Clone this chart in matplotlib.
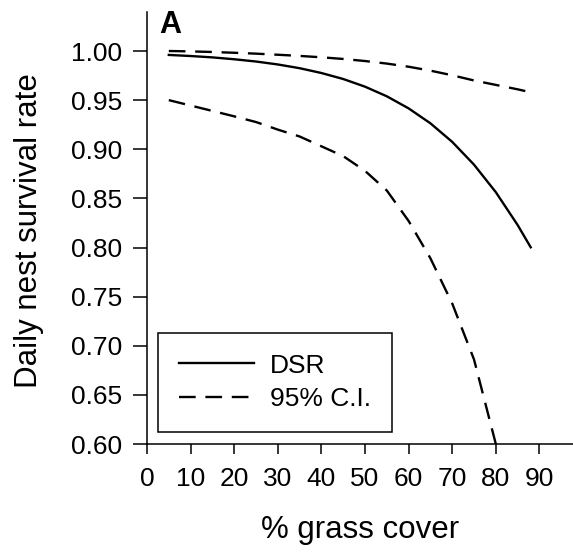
import matplotlib
matplotlib.use("Agg")
import matplotlib.pyplot as plt
import numpy as np

plt.rcParams.update(
    {
        "font.family": ["Liberation Sans", "DejaVu Sans"],
        "lines.scale_dashes": False,
    }
)

# values
grass = [5, 10, 15, 20, 25, 30, 35, 40, 45, 50, 55, 60, 65, 70, 75, 80, 85, 88]
dsr = [0.9960, 0.9949, 0.9935, 0.9916, 0.9893, 0.9863, 0.9825, 0.9776, 0.9715,
       0.9637, 0.9539, 0.9416, 0.9264, 0.9075, 0.8843, 0.8563, 0.8229, 0.8002]
ci_upper = [1.0000, 0.9996, 0.9990, 0.9982, 0.9973, 0.9962, 0.9950, 0.9936, 0.9919,
            0.9898, 0.9872, 0.9840, 0.9800, 0.9753, 0.9700, 0.9655, 0.9610, 0.9580]
grass_low = [5, 10, 15, 20, 25, 30, 35, 40, 45, 50, 55, 60, 65, 70, 75, 80]
ci_lower = [0.950, 0.9445, 0.939, 0.9335, 0.9277, 0.920, 0.913, 0.903, 0.893,
            0.878, 0.858, 0.827, 0.789, 0.743, 0.686, 0.600]

x_ticks = list(range(0, 100, 10))
y_ticks = [0.60, 0.65, 0.70, 0.75, 0.80, 0.85, 0.90, 0.95, 1.00]

DASH = (12, 7)
LW = 1.7

fig = plt.figure(figsize=(5.73, 5.56), dpi=100)
ax = fig.add_axes([147 / 573, 1 - 444 / 556, 1 - 147 / 573, (444 - 12) / 556])

ax.plot(grass, dsr, color="black", lw=LW, label="DSR")
ax.plot(grass, ci_upper, color="black", lw=LW, dashes=DASH, label="95% C.I.")
ax.plot(grass_low, ci_lower, color="black", lw=LW, dashes=DASH)

ax.set_xlim(0, 97.7)
ax.set_ylim(0.60, 1.0397)
ax.set_xticks(x_ticks)
ax.set_yticks(y_ticks)
ax.set_yticklabels([f"{v:.2f}" for v in y_ticks])

for side in ("top", "right"):
    ax.spines[side].set_visible(False)
for side in ("left", "bottom"):
    ax.spines[side].set_linewidth(1.1)

ax.tick_params(axis="y", direction="out", length=10, width=1.1, pad=8, labelsize=19)
ax.tick_params(axis="x", direction="out", length=7.2, width=1.1, pad=9, labelsize=19)

ax.set_xlabel("% grass cover", fontsize=22.5)
ax.set_ylabel("Daily nest survival rate", fontsize=22.5)
ax.xaxis.set_label_coords(0.5, -0.165)
ax.yaxis.set_label_coords(-0.242, 0.494)

ax.text(12 / 426, 1 - 21 / 432, "A", transform=ax.transAxes, fontsize=22,
        fontweight="bold", va="baseline", ha="left")

leg = ax.legend(
    loc="lower left",
    bbox_to_anchor=(11 / 426, 12 / 432),
    borderaxespad=0,
    fontsize=19,
    frameon=True,
    fancybox=False,
    edgecolor="black",
    framealpha=1,
    handlelength=2.85,
    handletextpad=0.6,
    borderpad=0.8,
    labelspacing=0.35,
)
leg.get_frame().set_linewidth(1.1)

fig.savefig("out.png", dpi=100)
